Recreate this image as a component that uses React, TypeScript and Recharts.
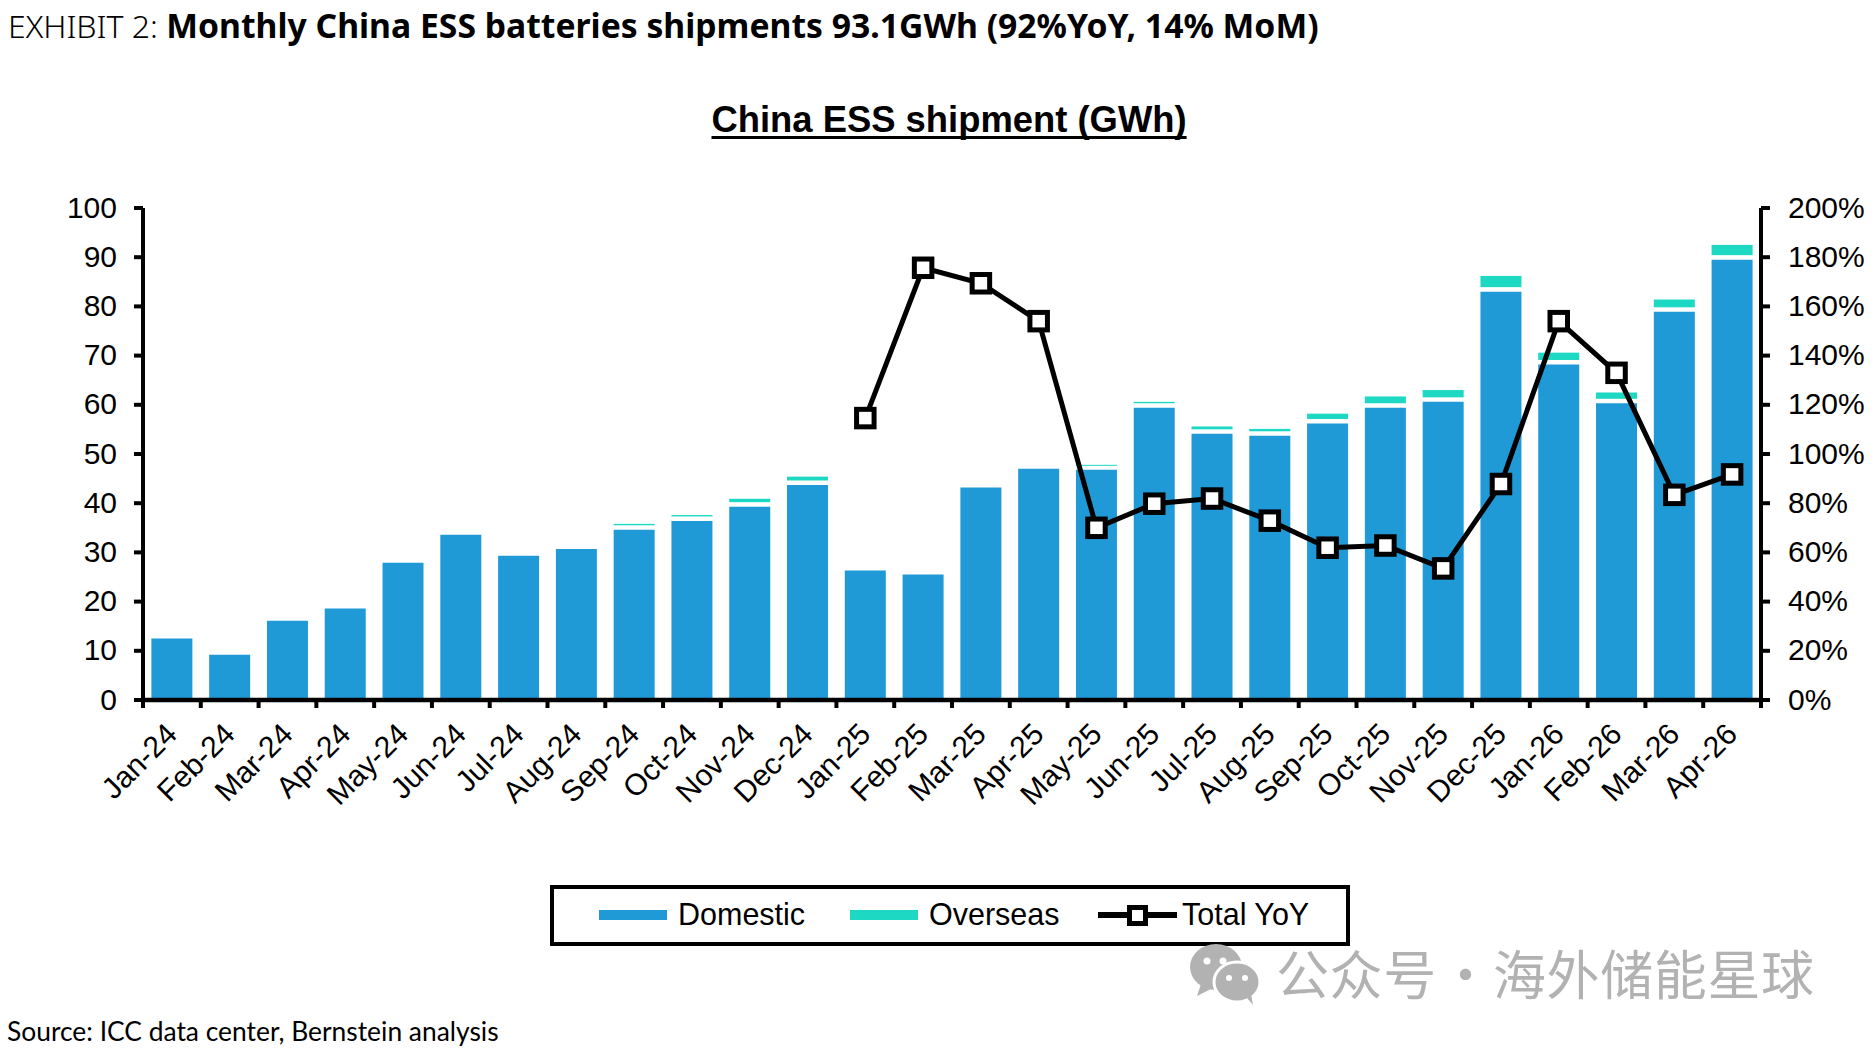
import { ComposedChart, Bar, Line, XAxis, YAxis } from 'recharts'

const MONTHS = [
  'Jan-24', 'Feb-24', 'Mar-24', 'Apr-24', 'May-24', 'Jun-24', 'Jul-24', 'Aug-24', 'Sep-24', 'Oct-24',
  'Nov-24', 'Dec-24', 'Jan-25', 'Feb-25', 'Mar-25', 'Apr-25', 'May-25', 'Jun-25', 'Jul-25', 'Aug-25',
  'Sep-25', 'Oct-25', 'Nov-25', 'Dec-25', 'Jan-26', 'Feb-26', 'Mar-26', 'Apr-26',
]
const DOMESTIC = [
  12.5, 9.2, 16.1, 18.6, 27.9, 33.6, 29.3, 30.7, 34.6, 36.4,
  39.3, 43.7, 26.3, 25.5, 43.2, 47.0, 46.8, 59.4, 54.1, 53.7,
  56.2, 59.4, 60.6, 83.0, 68.2, 60.3, 78.9, 89.5,
]
// includes the white gap the source draws between the two stacks
const OVERSEAS = [
  0, 0, 0, 0, 0, 0, 0, 0, 1.2, 1.2,
  1.6, 1.7, 0, 0, 0, 0, 1.0, 1.2, 1.5, 1.4,
  2.0, 2.3, 2.4, 3.2, 2.4, 2.2, 2.5, 3.0,
]
const TOTAL_YOY = [
  null, null, null, null, null, null, null, null, null, null,
  null, null, 114.6, 175.7, 169.4, 154, 70, 79.8, 81.9, 72.9,
  61.9, 62.8, 53.5, 87.8, 154, 133, 83.4, 91.7,
]
const LEFT_TICKS = [0, 10, 20, 30, 40, 50, 60, 70, 80, 90, 100]
const RIGHT_TICKS = [0, 20, 40, 60, 80, 100, 120, 140, 160, 180, 200]

const BLUE = '#1f9ad7'
const TEAL = '#1dd9c3'
const GREY = '#b2b2b2'
const ARIAL = '"Liberation Sans", Arial, sans-serif'
const GAP = 4.5
const PLOT_LEFT = 143
const PLOT_RIGHT = 1761
const BAND = (PLOT_RIGHT - PLOT_LEFT) / MONTHS.length

const data = MONTHS.map((month, i) => ({
  month,
  domestic: DOMESTIC[i],
  overseas: OVERSEAS[i],
  yoy: TOTAL_YOY[i],
}))

function OverseasBar({ x, y, width, height }: any) {
  if (!height || height <= 0) return null
  return <rect x={x} y={y} width={width} height={Math.max(height - GAP, 1)} fill={TEAL} />
}

function SquareDot({ cx, cy }: any) {
  if (cx == null || cy == null) return null
  return <rect x={cx - 8.75} y={cy - 8.75} width={17.5} height={17.5} fill="#fff" stroke="#000" strokeWidth={5} />
}

// tick marks sit between the months, labels are centred on them
function MonthTick({ x, y, payload, index }: any) {
  const left = x - BAND / 2
  return (
    <g>
      <line x1={left} x2={left} y1={y - 8} y2={y + 2} stroke="#000" strokeWidth={4} />
      {index === MONTHS.length - 1 && (
        <line x1={x + BAND / 2} x2={x + BAND / 2} y1={y - 8} y2={y + 2} stroke="#000" strokeWidth={4} />
      )}
      <text
        x={x + 7}
        y={y + 30}
        textAnchor="end"
        fontFamily={ARIAL}
        fontSize={30}
        fill="#000"
        transform={`rotate(-45 ${x + 7} ${y + 30})`}
      >
        {payload.value}
      </text>
    </g>
  )
}

function Swatch({ left, color }: { left: number; color: string }) {
  return <div style={{ position: 'absolute', left, top: 910, width: 68, height: 10, background: color }} />
}

function LegendLabel({ left, text }: { left: number; text: string }) {
  return (
    <div style={{ position: 'absolute', left, top: 897, fontFamily: ARIAL, fontSize: 30.5, lineHeight: '35px', color: '#000' }}>
      {text}
    </div>
  )
}

function WatermarkText({ left, text }: { left: number; text: string }) {
  return (
    <div style={{ position: 'absolute', left, top: 939, fontFamily: '"Noto Sans CJK SC", sans-serif', fontSize: 53, lineHeight: '66px', letterSpacing: 0.6, whiteSpace: 'nowrap', color: GREY }}>
      {text}
    </div>
  )
}

export default function App() {
  return (
    <div style={{ position: 'absolute', left: 0, top: 0, width: 1875, height: 1051, background: '#fff', overflow: 'hidden' }}>
      <div style={{ position: 'absolute', left: 8, top: 3, fontFamily: '"Noto Sans", sans-serif', fontSize: 32, lineHeight: '44px', whiteSpace: 'nowrap', color: '#000' }}>
        <span style={{ fontWeight: 300 }}>EXHIBIT 2: </span>
        <span style={{ fontWeight: 700, fontSize: 33.7 }}>Monthly China ESS batteries shipments 93.1GWh (92%YoY, 14% MoM)</span>
      </div>
      <div style={{ position: 'absolute', left: 711.5, top: 98, fontFamily: ARIAL, fontWeight: 700, fontSize: 36.4, lineHeight: '44px', textDecoration: 'underline', textDecorationThickness: 3, textDecorationSkipInk: 'none', textUnderlineOffset: 4, whiteSpace: 'nowrap', color: '#000' }}>
        China ESS shipment (GWh)
      </div>

      <div style={{ position: 'absolute', left: 0, top: 0 }}>
        <ComposedChart
          width={1875}
          height={1051}
          data={data}
          barCategoryGap="14.5%"
          margin={{ top: 208, right: 24, left: 63, bottom: 251 }}
        >
          <XAxis
            dataKey="month"
            interval={0}
            height={100}
            axisLine={{ stroke: '#000', strokeWidth: 4.5 }}
            tickLine={false}
            tick={<MonthTick />}
            tickMargin={0}
          />
          <YAxis
            yAxisId="left"
            width={80}
            domain={[0, 100]}
            ticks={LEFT_TICKS}
            interval={0}
            tick={{ fill: '#000', fontSize: 30, fontFamily: ARIAL, dy: -1 }}
            axisLine={{ stroke: '#000', strokeWidth: 4 }}
            tickLine={{ stroke: '#000', strokeWidth: 4 }}
            tickSize={9}
            tickMargin={17}
          />
          <YAxis
            yAxisId="right"
            orientation="right"
            width={90}
            domain={[0, 200]}
            ticks={RIGHT_TICKS}
            interval={0}
            tickFormatter={v => `${v}%`}
            tick={{ fill: '#000', fontSize: 30, fontFamily: ARIAL, dy: -1 }}
            axisLine={{ stroke: '#000', strokeWidth: 4 }}
            tickLine={{ stroke: '#000', strokeWidth: 4 }}
            tickSize={9}
            tickMargin={18}
          />
          <Bar yAxisId="left" dataKey="domestic" stackId="a" fill={BLUE} isAnimationActive={false} />
          <Bar yAxisId="left" dataKey="overseas" stackId="a" fill={TEAL} shape={<OverseasBar />} isAnimationActive={false} />
          <Line
            yAxisId="right"
            dataKey="yoy"
            type="linear"
            stroke="#000"
            strokeWidth={5}
            dot={<SquareDot />}
            activeDot={false}
            isAnimationActive={false}
          />
        </ComposedChart>
      </div>

      {/* legend */}
      <div style={{ position: 'absolute', left: 550, top: 885, width: 792, height: 53, border: '4.5px solid #000' }} />
      <Swatch left={599} color={BLUE} />
      <LegendLabel left={678} text="Domestic" />
      <Swatch left={850} color={TEAL} />
      <LegendLabel left={929} text="Overseas" />
      <div style={{ position: 'absolute', left: 1098, top: 912, width: 79, height: 6, background: '#000' }} />
      <div style={{ position: 'absolute', left: 1126.5, top: 904.5, width: 11, height: 11, border: '5px solid #000', background: '#fff' }} />
      <LegendLabel left={1182} text="Total YoY" />

      {/* watermark */}
      <svg style={{ position: 'absolute', left: 1187, top: 942 }} width={80} height={66}>
        <ellipse cx={29} cy={25} rx={26} ry={23} fill={GREY} />
        <path d="M14 42 L10 54 L26 46 Z" fill={GREY} />
        <ellipse cx={50} cy={40} rx={23} ry={20} stroke="#fff" strokeWidth={3} fill={GREY} />
        <path d="M60 56 L66 63 L64 52 Z" fill={GREY} />
        <circle cx={20} cy={19} r={3.5} fill="#fff" />
        <circle cx={36} cy={19} r={3.5} fill="#fff" />
        <circle cx={42} cy={36} r={3} fill="#fff" />
        <circle cx={58} cy={36} r={3} fill="#fff" />
      </svg>
      <WatermarkText left={1276} text="公众号" />
      <WatermarkText left={1439} text="·" />
      <WatermarkText left={1493} text="海外储能星球" />

      <div style={{ position: 'absolute', left: 7, top: 1014, fontFamily: 'Lato, sans-serif', fontSize: 26.4, lineHeight: '34px', whiteSpace: 'nowrap', color: '#000' }}>
        Source: ICC data center, Bernstein analysis
      </div>
    </div>
  )
}
